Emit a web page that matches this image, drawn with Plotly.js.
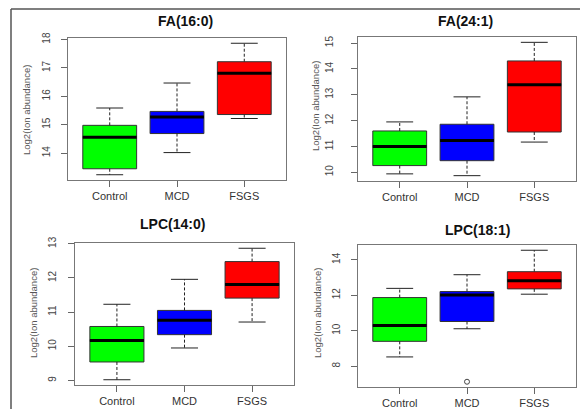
<!DOCTYPE html>
<html><head><meta charset="utf-8">
<script src="https://cdn.plot.ly/plotly-3.0.1.min.js"></script>
<style>html,body{margin:0;padding:0;background:#fff}#chart{width:580px;height:409px}</style>
</head><body><div id="chart"></div>
<script>
// ---- data ----
const groups = ['Control', 'MCD', 'FSGS'];
const groupColors = ['#00ff00', '#0000ff', '#ff0000'];
const panelTitles = ['FA(16:0)', 'FA(24:1)', 'LPC(14:0)', 'LPC(18:1)'];
const yTitle = 'Log2(Ion abundance)';

const fa160_lower  = [13.24, 14.02, 15.22];
const fa160_q1     = [13.45, 14.69, 15.36];
const fa160_median = [14.56, 15.27, 16.81];
const fa160_q3     = [14.98, 15.47, 17.22];
const fa160_upper  = [15.59, 16.47, 17.87];

const fa241_lower  = [9.94, 9.87, 11.17];
const fa241_q1     = [10.26, 10.45, 11.56];
const fa241_median = [11.00, 11.23, 13.39];
const fa241_q3     = [11.60, 11.86, 14.31];
const fa241_upper  = [11.95, 12.92, 15.03];

const lpc140_lower  = [9.02, 9.95, 10.71];
const lpc140_q1     = [9.54, 10.34, 11.41];
const lpc140_median = [10.17, 10.76, 11.81];
const lpc140_q3     = [10.58, 11.05, 12.48];
const lpc140_upper  = [11.23, 11.96, 12.87];

const lpc181_lower  = [8.52, 10.11, 12.06];
const lpc181_q1     = [9.40, 10.52, 12.36];
const lpc181_median = [10.30, 12.02, 12.82];
const lpc181_q3     = [11.87, 12.21, 13.33];
const lpc181_upper  = [12.39, 13.16, 14.54];
const lpc181_outlierGroup = ['MCD'];
const lpc181_outlierValue = [7.12];

const yDticks = [1, 1, 1, 2];

// ---- build ----
const W = 580, H = 409;
const panels = [
  {lower: fa160_lower, q1: fa160_q1, med: fa160_median, q3: fa160_q3, upper: fa160_upper, outG: [], outV: [],
   box: [68, 286, 38, 180], title: [185, 21], ytitle: [26, 110], standoff: 7},
  {lower: fa241_lower, q1: fa241_q1, med: fa241_median, q3: fa241_q3, upper: fa241_upper, outG: [], outV: [],
   box: [358, 576, 37, 181], title: [465, 21], ytitle: [316, 106], standoff: 14},
  {lower: lpc140_lower, q1: lpc140_q1, med: lpc140_median, q3: lpc140_q3, upper: lpc140_upper, outG: [], outV: [],
   box: [75, 294, 243, 385], title: [172, 224], ytitle: [33, 313], standoff: 8},
  {lower: lpc181_lower, q1: lpc181_q1, med: lpc181_median, q3: lpc181_q3, upper: lpc181_upper,
   outG: lpc181_outlierGroup, outV: lpc181_outlierValue,
   box: [358, 576, 245, 387], title: [477, 230], ytitle: [317, 313], standoff: 7}
];

const traces = [];
const layout = {
  width: W, height: H, margin: {l: 0, r: 0, t: 0, b: 0},
  paper_bgcolor: '#fff', plot_bgcolor: '#fff', showlegend: false, boxmode: 'overlay',
  annotations: [], shapes: [
    {type: 'line', xref: 'paper', yref: 'paper', x0: 11 / W, x1: 1, y0: 1 - 9 / H, y1: 1 - 9 / H, line: {color: '#555', width: 1.5}},
    {type: 'line', xref: 'paper', yref: 'paper', x0: 11 / W, x1: 11 / W, y0: 1 - 9 / H, y1: 0, line: {color: '#555', width: 1.5}}
  ]
};

panels.forEach((p, i) => {
  const n = i + 1;
  const xa = 'x' + (n === 1 ? '' : n), ya = 'y' + (n === 1 ? '' : n);
  const xk = 'xaxis' + (n === 1 ? '' : n), yk = 'yaxis' + (n === 1 ? '' : n);
  const pos = groups.map((g, j) => j + 1);
  groups.forEach((g, j) => {
    traces.push({type: 'box', xaxis: xa, yaxis: ya, x: [pos[j]],
      q1: [p.q1[j]], median: [p.med[j]], q3: [p.q3[j]], lowerfence: [p.q1[j]], upperfence: [p.q3[j]],
      width: 0.8, whiskerwidth: 0, fillcolor: groupColors[j], line: {color: '#333', width: 1},
      boxpoints: false, hoverinfo: 'skip'});
  });
  // whiskers (dashed)
  const wx = [], wy = [], cx = [], cy = [], mx = [], my = [];
  groups.forEach((g, j) => {
    const c = pos[j];
    wx.push(c, c, null, c, c, null); wy.push(p.q3[j], p.upper[j], null, p.q1[j], p.lower[j], null);
    cx.push(c - 0.2, c + 0.2, null, c - 0.2, c + 0.2, null); cy.push(p.upper[j], p.upper[j], null, p.lower[j], p.lower[j], null);
    mx.push(c - 0.4, c + 0.4, null); my.push(p.med[j], p.med[j], null);
  });
  traces.push({type: 'scatter', mode: 'lines', xaxis: xa, yaxis: ya, x: wx, y: wy,
    line: {color: '#222', width: 1, dash: '3px,2px'}, hoverinfo: 'skip'});
  traces.push({type: 'scatter', mode: 'lines', xaxis: xa, yaxis: ya, x: cx, y: cy,
    line: {color: '#222', width: 1}, hoverinfo: 'skip'});
  traces.push({type: 'scatter', mode: 'lines', xaxis: xa, yaxis: ya, x: mx, y: my,
    line: {color: '#000', width: 3}, hoverinfo: 'skip'});
  if (p.outV.length) {
    traces.push({type: 'scatter', mode: 'markers', xaxis: xa, yaxis: ya,
      x: p.outG.map(g => groups.indexOf(g) + 1), y: p.outV,
      marker: {symbol: 'circle-open', size: 5, color: '#444', line: {width: 1}}, hoverinfo: 'skip'});
  }
  // R-style 4% padding
  const lo = Math.min(...p.lower, ...p.outV), hi = Math.max(...p.upper, ...p.outV);
  const pad = (hi - lo) * 0.04;
  const [x0, x1, y0, y1] = p.box;
  layout[xk] = {domain: [x0 / W, x1 / W], range: [0.38, 3.62], anchor: ya,
    tickmode: 'array', tickvals: pos, ticktext: groups, ticks: 'outside', ticklen: 6, tickcolor: '#666',
    showline: true, mirror: true, linecolor: '#777', linewidth: 1, showgrid: false, zeroline: false,
    tickfont: {family: 'Liberation Sans, Arial, sans-serif', size: 11, color: '#333'}, fixedrange: true};
  layout[yk] = {domain: [1 - y1 / H, 1 - y0 / H], range: [lo - pad, hi + pad], anchor: xa,
    dtick: yDticks[i], tick0: 0, ticks: 'outside', ticklen: 6, tickcolor: '#666', tickangle: -90,
    ticklabelstandoff: p.standoff,
    showline: true, mirror: true, linecolor: '#777', linewidth: 1, showgrid: false, zeroline: false,
    tickfont: {family: 'Liberation Sans, Arial, sans-serif', size: 10, color: '#444'}, fixedrange: true};
  layout.annotations.push({xref: 'paper', yref: 'paper', x: p.title[0] / W, y: 1 - p.title[1] / H,
    xanchor: 'center', yanchor: 'middle', showarrow: false, text: '<b>' + panelTitles[i] + '</b>',
    font: {family: 'Liberation Sans, Arial, sans-serif', size: 14, color: '#111'}});
  layout.annotations.push({xref: 'paper', yref: 'paper', x: p.ytitle[0] / W, y: 1 - p.ytitle[1] / H,
    xanchor: 'center', yanchor: 'middle', showarrow: false, textangle: -90, text: yTitle,
    font: {family: 'Liberation Sans, Arial, sans-serif', size: 9.5, color: '#555'}});
});

Plotly.newPlot('chart', traces, layout, {staticPlot: true, displayModeBar: false});
</script>
</body></html>
